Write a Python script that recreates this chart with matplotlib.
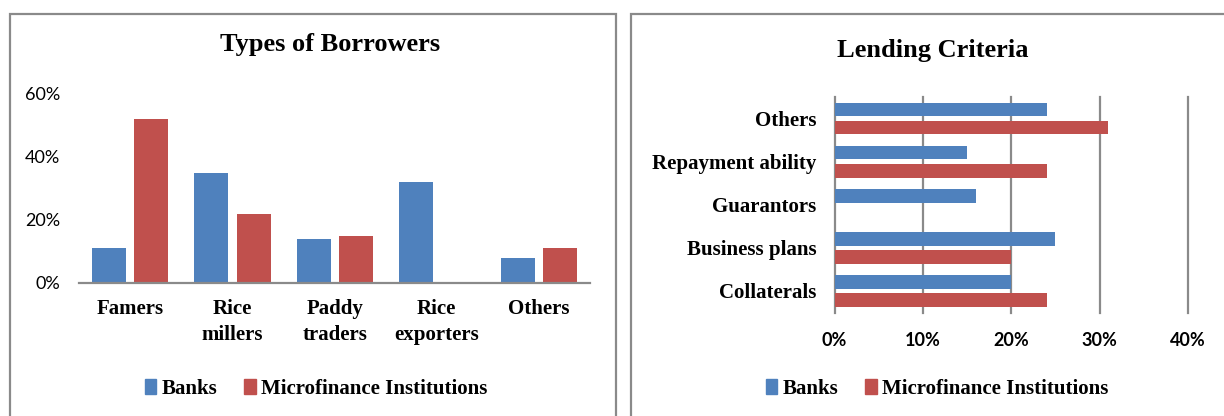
import numpy as np
import matplotlib.pyplot as plt
from matplotlib.patches import Rectangle, Patch
from matplotlib.ticker import PercentFormatter

# borrower types (left chart)
borrowers = ['Famers', 'Rice\nmillers', 'Paddy\ntraders', 'Rice\nexporters', 'Others']
borrow_banks = [0.11, 0.35, 0.14, 0.32, 0.08]
borrow_mfi = [0.52, 0.22, 0.15, 0.00, 0.11]

# lending criteria (right chart), listed bottom to top
criteria = ['Collaterals', 'Business plans', 'Guarantors', 'Repayment ability', 'Others']
crit_banks = [0.20, 0.25, 0.16, 0.15, 0.24]
crit_mfi = [0.24, 0.20, 0.00, 0.24, 0.31]

series = ['Banks', 'Microfinance Institutions']

BLUE = '#4F81BD'
RED = '#C0504D'
GRID = '#8A8A8A'
SERIF = 'Liberation Serif'
SANS = 'Lato'

W, H = 1224, 416
fig = plt.figure(figsize=(W / 100, H / 100), dpi=100)


def box(x0, y0, x1, y1):
    # pixel box (from top-left) -> figure fraction rect
    return [x0 / W, 1 - y1 / H, (x1 - x0) / W, (y1 - y0) / H]


# panel frames
for x0, x1 in [(9.5, 616), (631, 1240)]:
    fig.patches.append(Rectangle((x0 / W, -0.05), (x1 - x0) / W, 1.05 - 13.5 / H,
                                 transform=fig.transFigure, fill=False,
                                 ec=GRID, lw=1.6))

# ---- Types of Borrowers ----
ax1 = fig.add_axes(box(79.3, 94, 590, 282.7))
x = np.arange(len(borrowers))
bw = 0.333
off = 0.206
ax1.bar(x - off, borrow_banks, bw, color=BLUE, zorder=2)
ax1.bar(x + off, borrow_mfi, bw, color=RED, zorder=2)
ax1.set_xlim(-0.5, len(borrowers) - 0.5)
ax1.set_ylim(0, 0.6)
ax1.set_yticks([0, 0.2, 0.4, 0.6])
ax1.yaxis.set_major_formatter(PercentFormatter(1.0, decimals=0))
ax1.set_xticks(x)
ax1.set_xticklabels(borrowers, fontfamily=SERIF, fontweight='bold',
                    fontsize=15, linespacing=1.38)
for lab in ax1.get_yticklabels():
    lab.set_fontfamily(SANS)
    lab.set_fontsize(13)
ax1.tick_params(axis='y', length=0, pad=14)
ax1.tick_params(axis='x', length=0, pad=12)
for s in ['top', 'right', 'left']:
    ax1.spines[s].set_visible(False)
ax1.spines['bottom'].set_color(GRID)
ax1.spines['bottom'].set_linewidth(1.6)
fig.text(330 / W, 1 - 44 / H, 'Types of Borrowers', ha='center', va='center',
         fontfamily=SERIF, fontweight='bold', fontsize=19)

# ---- Lending Criteria ----
ax2 = fig.add_axes(box(834.6, 97, 1188, 312.5))
y = np.arange(len(criteria))
bh = 0.316
boff = 0.21
ax2.barh(y + boff, crit_banks, bh, color=BLUE, zorder=2)
ax2.barh(y - boff, crit_mfi, bh, color=RED, zorder=2)
ax2.set_ylim(-0.5, len(criteria) - 0.5)
ax2.set_xlim(0, 0.4)
ax2.set_xticks([0, 0.1, 0.2, 0.3, 0.4])
ax2.xaxis.set_major_formatter(PercentFormatter(1.0, decimals=0))
ax2.set_yticks(y)
ax2.set_yticklabels(criteria, fontfamily=SERIF, fontweight='bold', fontsize=15)
for lab in ax2.get_xticklabels():
    lab.set_fontfamily(SANS)
    lab.set_fontweight('bold')
    lab.set_fontsize(13)
ax2.tick_params(axis='y', length=0, pad=13)
ax2.tick_params(axis='x', length=0, pad=14)
for s in ax2.spines.values():
    s.set_visible(False)
ax2.grid(axis='x', color=GRID, lw=1.6)
for gl in ax2.get_xgridlines():
    gl.set_clip_on(False)
ax2.set_axisbelow(True)
fig.text(933 / W, 1 - 50 / H, 'Lending Criteria', ha='center', va='center',
         fontfamily=SERIF, fontweight='bold', fontsize=19)

# legends
handles = [Patch(color=BLUE), Patch(color=RED)]
for cx in [316, 937]:
    fig.legend(handles, series, loc='center', bbox_to_anchor=(cx / W, 1 - 389 / H),
               ncol=2, frameon=False, handlelength=0.55, handleheight=0.75,
               handletextpad=0.25, columnspacing=1.3,
               prop={'family': SERIF, 'weight': 'bold', 'size': 15})

fig.savefig('out.png', dpi=100)
